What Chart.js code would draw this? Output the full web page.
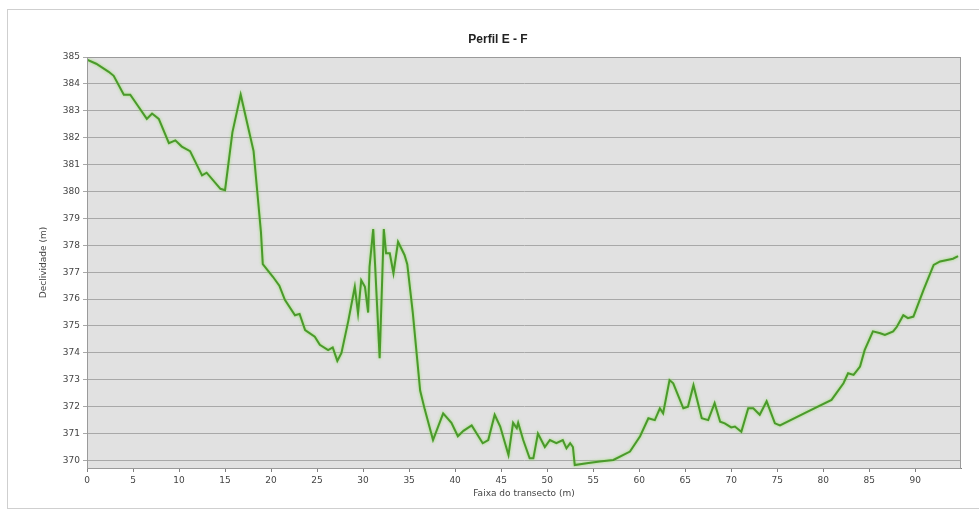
<!DOCTYPE html>
<html>
<head>
<meta charset="utf-8">
<script src="https://cdn.jsdelivr.net/npm/chart.js@4.4.1/dist/chart.umd.min.js"></script>
<style>
  html, body { margin: 0; padding: 0; background: #fff; overflow: hidden; }
  #frame { position: absolute; left: 7px; top: 9px; width: 975px; height: 498px; border: 1px solid #cfcfcf; }
  #c { position: absolute; left: 0; top: 0; }
</style>
</head>
<body>
<div id="frame"></div>
<canvas id="c" width="979" height="515"></canvas>
<script>
// Perfil E - F : distancia ao longo do transecto (m) e cota (m)
const distancia = [
  0, 1.0, 2.36, 2.9, 4.0, 4.7, 5.6, 6.5, 7.07, 7.8, 8.9, 9.6, 10.3, 11.2, 12.5, 13.0, 14.5, 15.0,
  15.8, 16.7, 18.1, 18.5, 18.9, 19.1, 20.2, 20.9, 21.5, 22.6, 23.1, 23.7, 24.75, 25.3, 26.2, 26.7,
  27.2, 27.65, 28.4, 29.1, 29.45, 29.8, 30.2, 30.55, 30.7, 31.1, 31.3, 31.8, 32.25, 32.5, 32.9,
  33.3, 33.8, 34.5, 34.8, 35.4, 36.2, 36.7, 37.6, 38.7, 39.6, 40.3, 40.9, 41.8, 43.0, 43.6, 44.3,
  44.9, 45.8, 46.3, 46.7, 46.85, 47.4, 48.1, 48.5, 49.0, 49.75, 50.3, 51.0, 51.7, 52.1, 52.5, 52.8,
  53.0, 54.3, 55.7, 57.2, 59.0, 60.1, 61.0, 61.7, 62.25, 62.6, 63.3, 63.7, 64.8, 65.3, 65.9, 66.8,
  67.5, 68.2, 68.8, 69.3, 70.0, 70.4, 71.1, 71.85, 72.4, 73.1, 73.85, 74.75, 75.3, 78.2, 80.9,
  82.2, 82.7, 83.3, 84.0, 84.5, 85.4, 86.2, 86.7, 87.6, 88.0, 88.7, 89.2, 89.8, 90.9, 92.0, 92.7,
  94.1, 94.65
];
const cota = [
  384.9, 384.75, 384.45, 384.3, 383.6, 383.6, 383.15, 382.7, 382.9, 382.7, 381.8, 381.9, 381.67, 381.5, 380.6, 380.7, 380.1, 380.05,
  382.2, 383.6, 381.5, 380.0, 378.5, 377.3, 376.83, 376.5, 375.97, 375.4, 375.45, 374.85, 374.6, 374.3, 374.1, 374.2,
  373.7, 374.0, 375.2, 376.46, 375.47, 376.7, 376.46, 375.5, 377.2, 378.6, 377.3, 373.8, 378.6, 377.7, 377.7,
  376.96, 378.13, 377.64, 377.3, 375.5, 372.6, 371.9, 370.76, 371.75, 371.4, 370.9, 371.1, 371.3, 370.64, 370.76, 371.7,
  371.26, 370.2, 371.4, 371.2, 371.4, 370.76, 370.08, 370.08, 371.0, 370.5, 370.76, 370.64, 370.76, 370.45, 370.64, 370.5,
  369.83, 369.9, 369.96, 370.02, 370.33, 370.9, 371.57, 371.5, 371.94, 371.75, 372.99, 372.87, 371.94, 372.0, 372.8, 371.57,
  371.5, 372.13, 371.44, 371.38, 371.23, 371.26, 371.07, 371.94, 371.94, 371.7, 372.2, 371.38, 371.3, 371.8, 372.25,
  372.87, 373.24, 373.18, 373.49, 374.1, 374.8, 374.73, 374.67, 374.8, 374.97, 375.4, 375.29, 375.35, 376.34, 377.27, 377.4,
  377.5, 377.6
];

// marcas dos eixos
const xTicks = [0, 5, 10, 15, 20, 25, 30, 35, 40, 45, 50, 55, 60, 65, 70, 75, 80, 85, 90];
const yTicks = [370, 371, 372, 373, 374, 375, 376, 377, 378, 379, 380, 381, 382, 383, 384, 385];

const pontos = distancia.map((d, i) => ({ x: d, y: cota[i] }));

// fundo cinza da area do grafico + moldura
const plotBg = {
  id: 'plotBg',
  beforeDraw(chart) {
    const { ctx, chartArea: a } = chart;
    ctx.save();
    ctx.fillStyle = '#e1e1e1';
    ctx.fillRect(a.left, a.top, a.right - a.left, a.bottom - a.top);
    ctx.restore();
  },
  afterDatasetsDraw(chart) {
    const { ctx, chartArea: a } = chart;
    ctx.save();
    ctx.strokeStyle = '#9a9a9a';
    ctx.lineWidth = 1;
    ctx.strokeRect(a.left + 0.5, a.top + 0.5, a.right - a.left - 1, a.bottom - a.top);
    ctx.restore();
  }
};

// leve brilho verde em volta da linha
const glow = {
  id: 'glow',
  beforeDatasetDraw(chart) {
    const ctx = chart.ctx;
    ctx.save();
    ctx.shadowColor = 'rgba(140, 220, 90, 0.9)';
    ctx.shadowBlur = 3;
  },
  afterDatasetDraw(chart) {
    chart.ctx.restore();
  }
};

const tickFont = { family: 'DejaVu Sans', size: 9 };

new Chart(document.getElementById('c'), {
  type: 'line',
  data: {
    datasets: [{
      label: 'Perfil E - F',
      data: pontos,
      borderColor: '#4a9a2b',
      borderWidth: 2,
      pointRadius: 0,
      tension: 0,
      fill: false
    }]
  },
  options: {
    responsive: false,
    animation: false,
    layout: { padding: { left: 35, right: 18, top: 0, bottom: 0 } },
    plugins: {
      legend: { display: false },
      tooltip: { enabled: false },
      title: {
        display: true,
        text: 'Perfil E - F',
        color: '#222',
        font: { family: 'Liberation Sans', size: 12, weight: 'bold' },
        padding: { top: 32, bottom: 10.6 }
      }
    },
    scales: {
      x: {
        type: 'linear',
        min: 0,
        max: 94.97,
        afterFit(s) { s.height = 47; },
        afterBuildTicks(s) { s.ticks = xTicks.map(v => ({ value: v })); },
        ticks: { color: '#444', font: tickFont, padding: 3, maxRotation: 0 },
        grid: { drawOnChartArea: false, drawTicks: true, tickLength: 4, color: '#808080' },
        border: { color: '#808080' },
        title: {
          display: true,
          text: 'Faixa do transecto (m)',
          color: '#444',
          font: tickFont,
          padding: { top: 0, bottom: 15.6 }
        }
      },
      y: {
        min: 369.72,
        max: 385,
        afterFit(s) { s.width = 52; },
        afterBuildTicks(s) { s.ticks = yTicks.map(v => ({ value: v })); },
        ticks: { color: '#444', font: tickFont, padding: 3 },
        grid: { color: '#a8a8a8', lineWidth: 1, tickLength: 4, drawTicks: true },
        border: { color: '#808080' },
        title: {
          display: true,
          text: 'Declividade (m)',
          color: '#444',
          font: tickFont,
          padding: { top: 3, bottom: 0 }
        }
      }
    }
  },
  plugins: [plotBg, glow]
});
</script>
</body>
</html>
